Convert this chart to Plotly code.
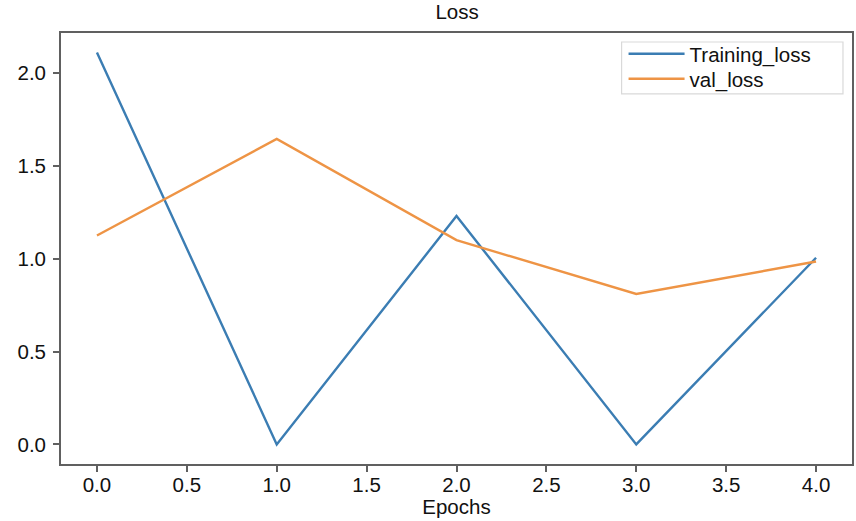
import plotly.graph_objects as go

epochs = [0, 1, 2, 3, 4]
training_loss = [2.11, 0.0, 1.23, 0.0, 1.005]
val_loss = [1.125, 1.645, 1.10, 0.81, 0.985]
x_ticks = [0.0, 0.5, 1.0, 1.5, 2.0, 2.5, 3.0, 3.5, 4.0]
y_ticks = [0.0, 0.5, 1.0, 1.5, 2.0]

FONT = "Liberation Sans, Arial, sans-serif"
FS = 20.5

fig = go.Figure()
fig.add_trace(go.Scatter(x=epochs, y=training_loss, mode="lines", name="Training_loss",
                         line=dict(color="#3b7db3", width=2.4), legend="legend"))
fig.add_trace(go.Scatter(x=epochs, y=val_loss, mode="lines", name="val_loss",
                         line=dict(color="#ee9445", width=2.4), legend="legend2"))

axis_common = dict(showline=True, linecolor="#606060", linewidth=1.8, mirror=True,
                   ticks="outside", ticklen=6, tickwidth=1.6, tickcolor="#606060",
                   showgrid=False, zeroline=False,
                   tickfont=dict(family=FONT, size=FS, color="#111"))

legend_common = dict(xanchor="left", yanchor="top", bgcolor="rgba(0,0,0,0)", borderwidth=0,
                     itemwidth=56, font=dict(family=FONT, size=FS, color="#111"))

fig.update_layout(
    width=856, height=521,
    margin=dict(l=61, r=2, t=33, b=57),
    paper_bgcolor="white", plot_bgcolor="white",
    title=dict(text="Loss", x=0.534, xanchor="center", y=0.977, yanchor="middle",
               font=dict(family=FONT, size=FS, color="#111")),
    xaxis=dict(range=[-0.2, 4.2], tickvals=x_ticks, ticktext=[f"{v:.1f}" for v in x_ticks],
               ticklabelstandoff=-5,
               title=dict(text="Epochs", font=dict(family=FONT, size=FS, color="#111"), standoff=0),
               **axis_common),
    yaxis=dict(range=[-0.1055, 2.2155], tickvals=y_ticks, ticktext=[f"{v:.1f}" for v in y_ticks],
               ticklabelstandoff=3,
               **axis_common),
    legend=dict(x=0.7112, y=0.998, **legend_common),
    legend2=dict(x=0.7112, y=0.940, **legend_common),
    shapes=[dict(type="rect", xref="paper", yref="paper", x0=0.7087, x1=0.9886, y0=0.8586, y1=0.9791,
                 line=dict(color="#d9d9d9", width=1.2), fillcolor="rgba(255,255,255,0.8)", layer="above")],
    showlegend=True,
)

fig.write_html("out.html", config={"displayModeBar": False},
               post_script="document.body.style.margin='0';document.body.style.overflow='hidden';")
